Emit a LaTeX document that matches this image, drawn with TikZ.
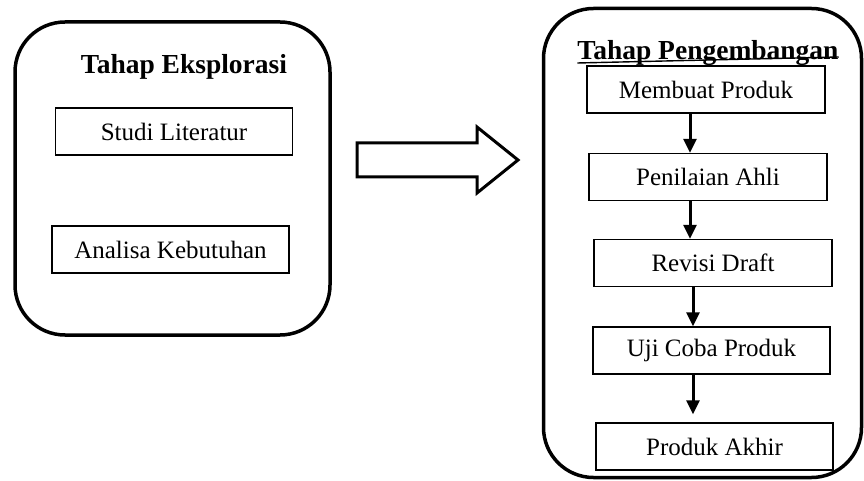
\documentclass[tikz,border=0pt]{standalone}
\usepackage{fontspec}
\setmainfont{Liberation Serif}
\usetikzlibrary{arrows.meta}
\begin{document}
\begin{tikzpicture}[x=1pt,y=-1pt,
  phase/.style={draw, line width=3.5pt, rounded corners=50pt, inner sep=0pt},
  stepbox/.style={draw, line width=1.4pt, minimum width=237pt, minimum height=47pt, inner sep=0pt, font=\fontsize{25}{29}\selectfont},
  titletext/.style={font=\fontsize{27.5}{31}\selectfont\bfseries, inner sep=0pt, anchor=base},
  flow/.style={line width=3pt, -{Triangle[width=13pt,length=14pt]}}
]
\useasboundingbox (0,0) rectangle (864,481);
\node[phase, minimum width=315pt, minimum height=313pt] (left) at (172.5,178.5) {};
\node[phase, minimum width=318pt, minimum height=469pt] (right) at (702.5,243) {};

\node[titletext] (t1) at (184,74) {Tahap Eksplorasi};
\node[titletext] (t2) at (708,60) {Tahap Pengembangan};
\draw[line width=1.4pt] (t2.base west) ++(0,3) -- ([yshift=3pt]t2.base east);

\node[stepbox] (s1) at (174,131.5) {Studi Literatur};
\node[stepbox] (s2) at (170.5,249.5) {Analisa Kebutuhan};

\node[stepbox, minimum width=238pt] (m1) at (706,89.5) {Membuat Produk};
\node[stepbox, minimum width=238pt] (m2) at (708,177) {Penilaian Ahli};
\node[stepbox, minimum width=238pt] (m3) at (713,263) {Revisi Draft};
\node[stepbox] (m4) at (711.5,350.5) {Uji Coba Produk};
\node[stepbox] (m5) at (714.5,446.5) {Produk Akhir};

\draw[flow] (m1.south -| 690,0) -- (m2.north -| 690,0);
\draw[flow] (m2.south -| 690,0) -- (m3.north -| 690,0);
\draw[flow] (m3.south -| 693,0) -- (m4.north -| 693,0);
\draw[flow] (m4.south -| 693,0) -- ([yshift=8pt]m5.north -| 693,0);

\draw[line width=3pt, line join=miter] (357,143) -- (477,143) -- (477,127) -- (518,160) -- (477,193) -- (477,177) -- (357,177) -- cycle;
\end{tikzpicture}
\end{document}
